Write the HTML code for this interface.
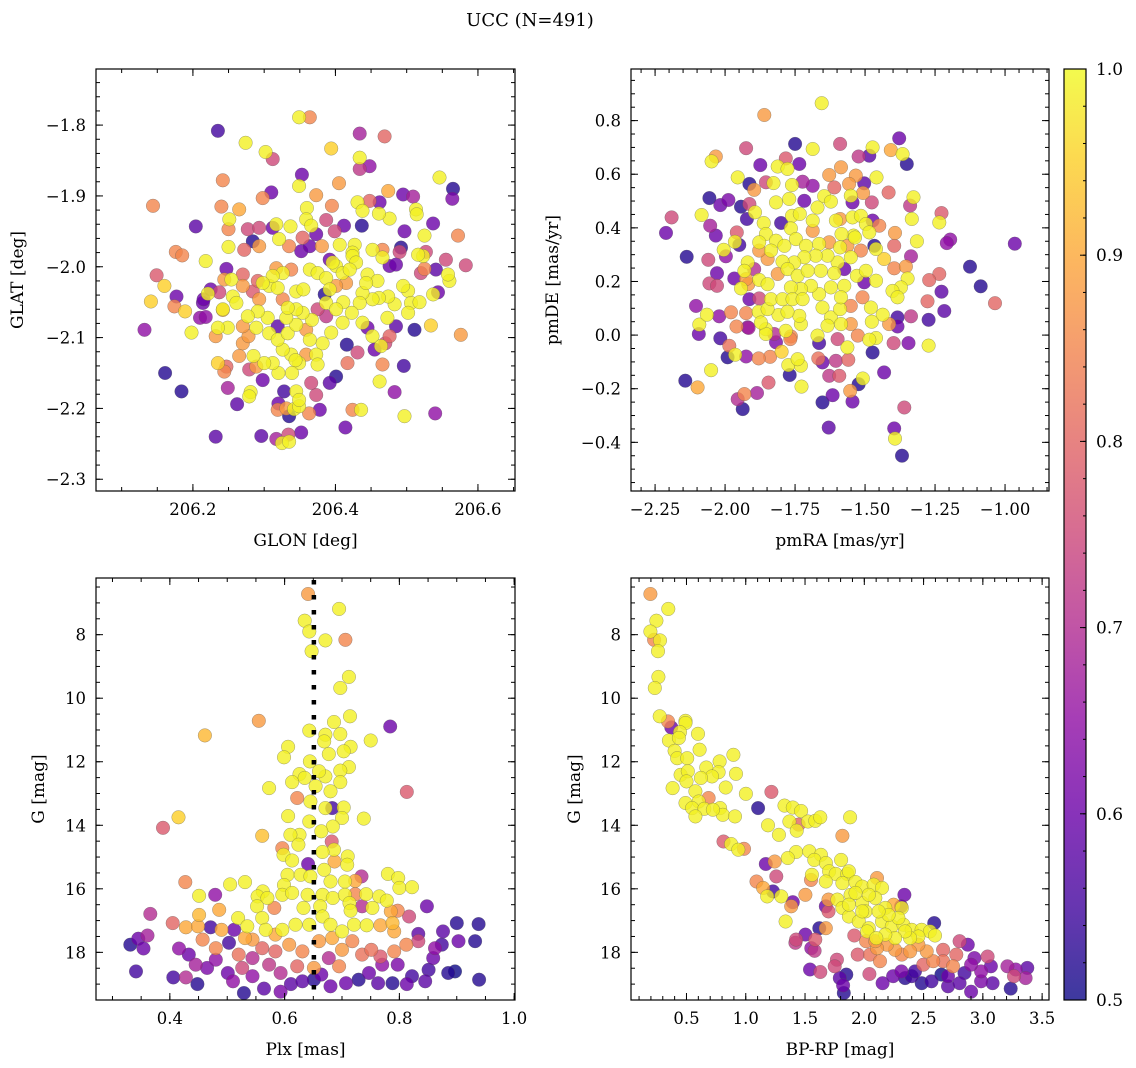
<!DOCTYPE html>
<html><head><meta charset="utf-8">
<style>
html,body{margin:0;padding:0;background:#fff;}
svg{display:block;font-family:"DejaVu Serif","Liberation Serif",serif;}
</style></head>
<body>
<svg id="fig" width="1136" height="1068" viewBox="0 0 1136 1068" xmlns="http://www.w3.org/2000/svg">
<rect x="0" y="0" width="1136" height="1068" fill="#fff"/>
<text x="530" y="26" font-size="18" text-anchor="middle">UCC (N=491)</text>
<defs>
<linearGradient id="plasma" x1="0" y1="1" x2="0" y2="0">
<stop offset="0" stop-color="#0d0887"/><stop offset="0.1" stop-color="#41049d"/><stop offset="0.2" stop-color="#6a00a8"/>
<stop offset="0.3" stop-color="#8f0da4"/><stop offset="0.4" stop-color="#b12a90"/><stop offset="0.5" stop-color="#cc4778"/>
<stop offset="0.6" stop-color="#e16462"/><stop offset="0.7" stop-color="#f2844b"/><stop offset="0.8" stop-color="#fca636"/>
<stop offset="0.9" stop-color="#fcce25"/><stop offset="1" stop-color="#f0f921"/>
</linearGradient>
</defs>
<g id="root"></g>
</svg>
<script>
// ---- data: [x, y, membership probability] ----
const glonGlat = [[206.349,-1.789,0.99],[206.364,-1.789,0.85],[206.235,-1.808,0.55],[206.274,-1.825,0.99],[206.302,-1.838,0.99],[206.312,-1.848,0.75],[206.434,-1.812,0.68],[206.469,-1.816,0.8],[206.394,-1.833,0.95],[206.434,-1.846,0.99],[206.448,-1.858,0.65],[206.434,-1.862,0.72],[206.242,-1.878,0.85],[206.353,-1.870,0.6],[206.349,-1.886,0.99],[206.405,-1.882,0.88],[206.373,-1.899,0.88],[206.298,-1.903,0.85],[206.310,-1.895,0.6],[206.144,-1.914,0.85],[206.240,-1.915,0.85],[206.265,-1.919,0.9],[206.546,-1.874,0.99],[206.565,-1.890,0.52],[206.564,-1.904,0.62],[206.474,-1.893,0.9],[206.495,-1.898,0.6],[206.509,-1.901,0.68],[206.431,-1.909,0.99],[206.448,-1.907,0.8],[206.462,-1.909,0.6],[206.513,-1.919,0.99],[206.514,-1.926,0.99],[206.476,-1.932,0.99],[206.461,-1.925,0.99],[206.438,-1.921,0.99],[206.395,-1.914,0.85],[206.360,-1.917,0.99],[206.359,-1.933,0.99],[206.366,-1.942,0.99],[206.387,-1.934,0.75],[206.412,-1.942,0.6],[206.437,-1.942,0.52],[206.537,-1.939,0.6],[206.525,-1.956,0.99],[206.497,-1.950,0.6],[206.572,-1.956,0.85],[206.583,-1.998,0.75],[206.204,-1.943,0.58],[206.251,-1.933,0.99],[206.250,-1.947,0.85],[206.277,-1.947,0.75],[206.293,-1.945,0.75],[206.317,-1.940,0.99],[206.312,-1.945,0.6],[206.337,-1.943,0.99],[206.399,-1.950,0.75],[206.373,-1.954,0.6],[206.354,-1.959,0.8],[206.284,-1.964,0.52],[206.293,-1.971,0.88],[206.250,-1.972,0.99],[206.272,-1.976,0.8],[206.321,-1.961,0.99],[206.335,-1.971,0.85],[206.352,-1.978,0.6],[206.364,-1.971,0.6],[206.381,-1.971,0.88],[206.406,-1.969,0.99],[206.427,-1.969,0.99],[206.424,-1.980,0.99],[206.452,-1.976,0.99],[206.466,-1.976,0.85],[206.492,-1.973,0.52],[206.490,-1.979,0.75],[206.176,-1.979,0.85],[206.185,-1.984,0.85],[206.218,-1.992,0.99],[206.247,-2.003,0.6],[206.149,-2.012,0.78],[206.160,-2.027,0.95],[206.141,-2.049,0.95],[206.177,-2.042,0.6],[206.174,-2.056,0.85],[206.189,-2.063,0.95],[206.214,-2.051,0.6],[206.210,-2.072,0.65],[206.218,-2.071,0.65],[206.242,-2.061,0.9],[206.198,-2.093,0.99],[206.132,-2.089,0.65],[206.161,-2.150,0.52],[206.184,-2.176,0.52],[206.249,-2.171,0.68],[206.262,-2.194,0.58],[206.232,-2.240,0.58],[206.281,-2.177,0.99],[206.279,-2.183,0.99],[206.235,-2.136,0.95],[206.247,-2.141,0.8],[206.244,-2.148,0.85],[206.298,-2.160,0.6],[206.296,-2.239,0.58],[206.317,-2.243,0.68],[206.325,-2.249,0.99],[206.335,-2.247,0.99],[206.334,-2.237,0.75],[206.352,-2.234,0.6],[206.328,-2.176,0.55],[206.320,-2.193,0.6],[206.319,-2.202,0.85],[206.331,-2.200,0.88],[206.342,-2.201,0.99],[206.349,-2.197,0.99],[206.335,-2.211,0.52],[206.363,-2.207,0.85],[206.373,-2.181,0.75],[206.366,-2.164,0.75],[206.378,-2.202,0.6],[206.345,-2.176,0.99],[206.349,-2.188,0.99],[206.392,-2.164,0.58],[206.401,-2.155,0.52],[206.414,-2.227,0.6],[206.424,-2.202,0.85],[206.436,-2.202,0.99],[206.462,-2.162,0.99],[206.483,-2.177,0.65],[206.497,-2.211,0.99],[206.540,-2.207,0.65],[206.496,-2.140,0.55],[206.466,-2.138,0.85],[206.417,-2.136,0.82],[206.431,-2.121,0.75],[206.576,-2.096,0.88],[206.534,-2.083,0.95],[206.511,-2.089,0.52],[206.485,-2.084,0.58],[206.473,-2.072,0.99],[206.537,-2.039,0.99],[206.544,-2.036,0.6],[206.560,-2.020,0.99],[206.558,-2.011,0.99],[206.555,-1.990,0.75],[206.541,-2.004,0.58],[206.525,-2.003,0.85],[206.520,-2.009,0.75],[206.523,-1.985,0.99],[206.516,-1.983,0.99],[206.527,-1.979,0.75],[206.502,-2.034,0.99],[206.495,-2.027,0.99],[206.506,-2.051,0.99],[206.518,-2.050,0.99],[206.502,-2.065,0.99],[206.483,-2.053,0.99],[206.474,-2.042,0.99],[206.461,-2.044,0.99],[206.452,-2.046,0.99],[206.438,-2.037,0.99],[206.434,-2.051,0.99],[206.423,-2.065,0.99],[206.411,-2.050,0.99],[206.410,-2.079,0.99],[206.438,-2.079,0.99],[206.452,-2.098,0.99],[206.464,-2.112,0.99],[206.476,-2.098,0.8],[206.470,-2.108,0.75],[206.455,-2.117,0.6],[206.445,-2.086,0.6],[206.416,-2.110,0.52],[206.394,-2.093,0.99],[206.382,-2.108,0.99],[206.373,-2.124,0.99],[206.375,-2.138,0.99],[206.359,-2.124,0.88],[206.349,-2.136,0.99],[206.338,-2.124,0.99],[206.344,-2.132,0.99],[206.326,-2.117,0.99],[206.320,-2.150,0.99],[206.339,-2.150,0.99],[206.312,-2.136,0.99],[206.300,-2.136,0.99],[206.289,-2.141,0.88],[206.279,-2.145,0.75],[206.285,-2.126,0.99],[206.265,-2.126,0.88],[206.270,-2.108,0.88],[206.278,-2.098,0.88],[206.289,-2.086,0.99],[206.307,-2.094,0.99],[206.319,-2.103,0.99],[206.333,-2.094,0.99],[206.345,-2.082,0.99],[206.359,-2.089,0.88],[206.364,-2.103,0.99],[206.367,-2.075,0.99],[206.354,-2.065,0.99],[206.345,-2.060,0.99],[206.331,-2.072,0.99],[206.319,-2.084,0.58],[206.305,-2.072,0.99],[206.291,-2.063,0.99],[206.277,-2.070,0.99],[206.270,-2.084,0.88],[206.249,-2.086,0.99],[206.235,-2.086,0.99],[206.232,-2.098,0.88],[206.256,-2.042,0.99],[206.261,-2.051,0.99],[206.270,-2.027,0.88],[206.284,-2.035,0.78],[206.293,-2.046,0.88],[206.307,-2.027,0.99],[206.319,-2.030,0.99],[206.326,-2.046,0.85],[206.333,-2.058,0.99],[206.345,-2.035,0.99],[206.355,-2.032,0.99],[206.364,-2.004,0.99],[206.375,-2.009,0.99],[206.387,-2.016,0.99],[206.401,-1.999,0.99],[206.410,-2.009,0.99],[206.392,-2.032,0.99],[206.387,-2.051,0.99],[206.401,-2.060,0.99],[206.375,-2.060,0.75],[206.387,-2.070,0.72],[206.385,-2.039,0.52],[206.396,-1.994,0.99],[206.392,-1.990,0.6],[206.424,-1.985,0.99],[206.429,-1.994,0.99],[206.420,-2.004,0.99],[206.445,-2.011,0.99],[206.459,-2.020,0.99],[206.443,-2.023,0.99],[206.466,-1.987,0.99],[206.476,-1.999,0.6],[206.485,-1.997,0.6],[206.415,-2.023,0.88],[206.401,-2.027,0.88],[206.338,-2.004,0.85],[206.326,-2.009,0.99],[206.317,-2.002,0.88],[206.312,-2.013,0.99],[206.298,-2.023,0.99],[206.291,-2.020,0.8],[206.270,-2.011,0.8],[206.254,-2.018,0.99],[206.244,-2.018,0.88],[206.225,-2.032,0.6],[206.221,-2.038,0.99],[206.237,-2.036,0.75],[206.215,-2.046,0.6],[206.242,-2.060,0.99]];

const pmraPmde = [[-1.655,0.865,0.99],[-1.860,0.821,0.88],[-1.750,0.713,0.52],[-1.687,0.694,0.99],[-1.589,0.713,0.75],[-1.925,0.697,0.75],[-1.378,0.734,0.6],[-1.473,0.700,0.99],[-1.408,0.690,0.9],[-1.366,0.675,0.99],[-1.351,0.638,0.52],[-1.523,0.666,0.72],[-1.485,0.669,0.58],[-2.033,0.666,0.88],[-2.048,0.648,0.99],[-1.874,0.634,0.6],[-1.783,0.659,0.78],[-1.735,0.638,0.6],[-1.812,0.629,0.99],[-1.777,0.620,0.99],[-1.586,0.626,0.88],[-1.628,0.597,0.88],[-1.533,0.595,0.88],[-1.459,0.588,0.99],[-1.955,0.588,0.99],[-1.913,0.564,0.52],[-1.827,0.567,0.99],[-1.761,0.560,0.99],[-1.723,0.572,0.68],[-1.687,0.557,0.65],[-1.854,0.570,0.75],[-1.896,0.542,0.88],[-1.503,0.566,0.58],[-1.557,0.564,0.88],[-1.610,0.551,0.8],[-2.056,0.511,0.52],[-2.017,0.485,0.6],[-1.988,0.504,0.62],[-1.943,0.479,0.52],[-1.913,0.489,0.75],[-1.818,0.495,0.99],[-1.771,0.508,0.99],[-1.717,0.501,0.6],[-1.646,0.518,0.99],[-1.622,0.498,0.99],[-1.551,0.520,0.99],[-1.507,0.530,0.88],[-1.545,0.495,0.6],[-1.476,0.495,0.75],[-1.416,0.532,0.8],[-1.327,0.514,0.99],[-1.339,0.483,0.72],[-1.333,0.433,0.99],[-1.227,0.455,0.78],[-1.235,0.420,0.99],[-1.196,0.356,0.65],[-1.208,0.343,0.65],[-0.965,0.341,0.6],[-1.315,0.350,0.99],[-1.336,0.294,0.68],[-1.393,0.381,0.88],[-1.396,0.333,0.8],[-1.467,0.333,0.52],[-1.461,0.321,0.99],[-1.432,0.284,0.95],[-1.396,0.249,0.85],[-1.354,0.256,0.88],[-1.348,0.211,0.99],[-1.372,0.178,0.99],[-1.402,0.165,0.99],[-1.384,0.141,0.99],[-1.125,0.255,0.52],[-1.087,0.182,0.52],[-1.036,0.119,0.8],[-1.235,0.228,0.8],[-1.271,0.205,0.8],[-1.227,0.162,0.58],[-1.277,0.126,0.8],[-1.217,0.090,0.58],[-1.273,0.057,0.55],[-1.336,0.070,0.72],[-1.384,0.066,0.55],[-1.273,-0.039,0.99],[-1.345,-0.030,0.62],[-1.398,-0.030,0.75],[-1.384,0.032,0.6],[-1.414,0.041,0.88],[-1.437,0.076,0.99],[-1.476,0.050,0.99],[-1.461,-0.011,0.99],[-1.485,-0.017,0.99],[-1.473,-0.065,0.52],[-1.432,-0.139,0.6],[-1.360,-0.270,0.75],[-1.396,-0.348,0.6],[-1.393,-0.386,0.99],[-1.368,-0.450,0.52],[-1.630,-0.345,0.58],[-1.652,-0.251,0.52],[-1.616,-0.224,0.6],[-1.545,-0.248,0.6],[-1.523,-0.183,0.52],[-1.508,-0.162,0.99],[-1.553,-0.208,0.88],[-1.592,-0.152,0.78],[-1.628,-0.152,0.72],[-1.604,-0.096,0.72],[-1.560,-0.092,0.8],[-1.652,-0.102,0.6],[-1.667,-0.087,0.82],[-1.727,-0.192,0.99],[-1.769,-0.149,0.52],[-1.774,-0.112,0.99],[-1.729,-0.114,0.99],[-1.741,-0.090,0.99],[-1.798,-0.062,0.95],[-1.839,-0.081,0.85],[-1.880,-0.087,0.85],[-1.925,-0.080,0.65],[-1.845,-0.177,0.78],[-1.886,-0.216,0.68],[-1.931,-0.220,0.85],[-1.955,-0.239,0.7],[-1.937,-0.276,0.52],[-2.050,-0.131,0.99],[-2.098,-0.195,0.9],[-2.142,-0.170,0.52],[-1.991,-0.083,0.52],[-1.964,-0.073,0.99],[-1.985,-0.040,0.82],[-2.017,-0.012,0.55],[-2.094,0.004,0.6],[-2.092,0.039,0.99],[-2.065,0.076,0.99],[-2.104,0.109,0.65],[-2.021,0.070,0.65],[-1.979,0.085,0.85],[-1.959,0.032,0.85],[-1.916,0.027,0.68],[-1.925,0.082,0.85],[-1.880,0.087,0.99],[-1.854,0.022,0.99],[-1.824,0.004,0.7],[-1.783,0.016,0.99],[-1.765,-0.005,0.85],[-1.729,0.041,0.99],[-1.735,0.072,0.99],[-1.809,0.075,0.99],[-1.777,0.087,0.99],[-1.848,0.097,0.99],[-1.878,0.137,0.75],[-1.836,0.134,0.99],[-1.913,0.134,0.6],[-1.943,0.174,0.99],[-1.917,0.190,0.88],[-1.967,0.211,0.6],[-2.029,0.231,0.6],[-2.056,0.193,0.75],[-2.029,0.184,0.75],[-2.137,0.292,0.52],[-2.060,0.281,0.75],[-2.005,0.318,0.99],[-1.997,0.294,0.65],[-1.965,0.348,0.99],[-1.949,0.336,0.55],[-1.958,0.383,0.78],[-2.053,0.408,0.68],[-2.033,0.371,0.6],[-2.084,0.448,0.99],[-2.191,0.439,0.75],[-2.211,0.381,0.6],[-1.922,0.433,0.55],[-1.893,0.458,0.99],[-1.862,0.418,0.99],[-1.800,0.418,0.55],[-1.761,0.445,0.99],[-1.733,0.452,0.99],[-1.687,0.427,0.99],[-1.670,0.476,0.99],[-1.604,0.427,0.99],[-1.589,0.433,0.88],[-1.545,0.439,0.99],[-1.515,0.445,0.99],[-1.497,0.414,0.99],[-1.473,0.427,0.6],[-1.449,0.408,0.85],[-1.485,0.383,0.99],[-1.541,0.371,0.99],[-1.584,0.377,0.99],[-1.687,0.389,0.88],[-1.765,0.398,0.99],[-1.854,0.377,0.99],[-1.818,0.352,0.99],[-1.878,0.346,0.99],[-1.836,0.315,0.99],[-1.788,0.333,0.99],[-1.747,0.358,0.99],[-1.711,0.333,0.99],[-1.664,0.340,0.99],[-1.628,0.346,0.88],[-1.589,0.327,0.99],[-1.563,0.333,0.88],[-1.536,0.364,0.99],[-1.515,0.315,0.85],[-1.551,0.290,0.99],[-1.598,0.271,0.99],[-1.634,0.296,0.99],[-1.676,0.296,0.99],[-1.717,0.290,0.99],[-1.753,0.271,0.99],[-1.795,0.274,0.99],[-1.848,0.284,0.88],[-1.878,0.315,0.88],[-1.919,0.271,0.99],[-1.931,0.240,0.99],[-1.896,0.246,0.7],[-1.925,0.209,0.88],[-1.878,0.206,0.99],[-1.848,0.190,0.99],[-1.812,0.228,0.88],[-1.777,0.246,0.99],[-1.741,0.221,0.99],[-1.705,0.240,0.99],[-1.658,0.240,0.99],[-1.610,0.231,0.99],[-1.574,0.246,0.6],[-1.529,0.221,0.99],[-1.497,0.240,0.99],[-1.461,0.203,0.99],[-1.503,0.197,0.6],[-1.574,0.184,0.99],[-1.622,0.178,0.99],[-1.664,0.153,0.99],[-1.693,0.184,0.99],[-1.729,0.172,0.99],[-1.765,0.178,0.99],[-1.795,0.134,0.99],[-1.759,0.134,0.99],[-1.723,0.134,0.99],[-1.652,0.103,0.99],[-1.622,0.066,0.99],[-1.589,0.097,0.99],[-1.586,0.141,0.99],[-1.551,0.109,0.85],[-1.509,0.141,0.85],[-1.479,0.103,0.99],[-1.551,0.041,0.88],[-1.586,0.041,0.99],[-1.634,0.035,0.99],[-1.670,-0.002,0.99],[-1.664,-0.030,0.55],[-1.598,-0.015,0.75],[-1.563,-0.046,0.99],[-1.526,-0.002,0.85],[-1.767,-0.015,0.85],[-1.818,-0.027,0.62],[-1.854,0.004,0.99],[-1.872,0.047,0.99],[-1.919,0.029,0.65]];

const plxG = [[0.641,6.72,0.88],[0.695,7.19,0.99],[0.635,7.56,0.99],[0.643,7.90,0.99],[0.647,8.52,0.99],[0.671,8.18,0.99],[0.706,8.16,0.85],[0.712,9.33,0.99],[0.697,9.68,0.99],[0.555,10.71,0.88],[0.461,11.17,0.92],[0.784,10.89,0.6],[0.686,10.75,0.99],[0.714,10.57,0.99],[0.697,11.13,0.99],[0.643,11.02,0.99],[0.671,11.15,0.99],[0.669,11.36,0.99],[0.750,11.33,0.99],[0.715,11.53,0.99],[0.703,11.67,0.99],[0.677,11.76,0.99],[0.606,11.53,0.99],[0.599,11.86,0.99],[0.644,11.99,0.99],[0.712,12.17,0.99],[0.697,12.28,0.99],[0.671,12.46,0.99],[0.660,12.30,0.99],[0.626,12.39,0.99],[0.613,12.64,0.99],[0.635,12.51,0.99],[0.697,12.64,0.99],[0.573,12.83,0.99],[0.654,12.77,0.99],[0.680,12.93,0.99],[0.813,12.95,0.78],[0.622,13.14,0.85],[0.645,13.25,0.99],[0.683,13.46,0.55],[0.671,13.46,0.99],[0.703,13.44,0.99],[0.700,13.77,0.99],[0.738,13.79,0.99],[0.643,13.88,0.99],[0.606,13.71,0.99],[0.415,13.75,0.95],[0.388,14.08,0.78],[0.684,14.04,0.99],[0.664,14.19,0.99],[0.626,14.30,0.99],[0.610,14.30,0.99],[0.561,14.33,0.93],[0.682,14.51,0.78],[0.624,14.61,0.99],[0.596,14.72,0.85],[0.598,14.93,0.99],[0.613,15.11,0.99],[0.686,14.77,0.99],[0.666,14.84,0.99],[0.710,14.98,0.99],[0.687,15.14,0.9],[0.709,15.24,0.99],[0.641,15.22,0.6],[0.669,15.40,0.99],[0.605,15.56,0.99],[0.628,15.56,0.99],[0.645,15.61,0.99],[0.680,15.77,0.99],[0.705,15.77,0.99],[0.723,15.75,0.9],[0.734,15.61,0.7],[0.780,15.53,0.99],[0.798,15.66,0.99],[0.800,15.97,0.99],[0.822,15.95,0.99],[0.427,15.79,0.85],[0.505,15.86,0.99],[0.531,15.79,0.99],[0.451,16.22,0.99],[0.479,16.19,0.65],[0.562,16.08,0.99],[0.553,16.24,0.99],[0.599,15.88,0.99],[0.596,16.19,0.99],[0.613,16.13,0.99],[0.640,16.19,0.99],[0.666,16.19,0.99],[0.684,16.29,0.99],[0.705,16.19,0.99],[0.723,16.17,0.85],[0.742,16.17,0.99],[0.765,16.24,0.99],[0.778,16.37,0.99],[0.570,16.29,0.99],[0.552,16.55,0.99],[0.582,16.60,0.85],[0.633,16.60,0.99],[0.662,16.55,0.99],[0.713,16.45,0.99],[0.715,16.69,0.99],[0.735,16.55,0.7],[0.753,16.60,0.99],[0.785,16.71,0.9],[0.797,16.69,0.85],[0.848,16.55,0.6],[0.366,16.79,0.7],[0.405,17.08,0.8],[0.428,17.21,0.9],[0.449,17.18,0.9],[0.451,16.82,0.92],[0.486,16.66,0.9],[0.471,17.21,0.55],[0.490,17.29,0.9],[0.512,17.29,0.6],[0.519,16.92,0.99],[0.535,17.18,0.99],[0.561,16.92,0.99],[0.567,17.29,0.99],[0.596,17.29,0.99],[0.619,17.13,0.99],[0.643,17.13,0.99],[0.666,16.87,0.99],[0.680,17.13,0.99],[0.700,17.34,0.99],[0.721,17.13,0.99],[0.743,17.15,0.99],[0.767,17.15,0.9],[0.788,17.08,0.92],[0.791,17.34,0.9],[0.817,16.87,0.75],[0.833,17.42,0.58],[0.876,17.34,0.58],[0.900,17.08,0.52],[0.938,17.11,0.52],[0.361,17.47,0.68],[0.345,17.57,0.6],[0.331,17.76,0.52],[0.354,17.88,0.6],[0.341,18.60,0.55],[0.406,18.79,0.55],[0.428,18.79,0.7],[0.448,19.00,0.52],[0.416,17.88,0.65],[0.433,18.07,0.6],[0.445,18.39,0.68],[0.465,18.49,0.62],[0.457,17.60,0.85],[0.480,17.87,0.85],[0.503,17.70,0.55],[0.501,18.65,0.6],[0.510,18.91,0.65],[0.529,19.28,0.52],[0.526,18.49,0.75],[0.544,18.75,0.65],[0.520,18.07,0.82],[0.544,17.60,0.88],[0.564,19.14,0.58],[0.593,19.24,0.62],[0.573,18.39,0.72],[0.593,18.65,0.7],[0.584,17.97,0.8],[0.611,19.00,0.58],[0.622,18.44,0.8],[0.608,17.76,0.88],[0.631,17.97,0.85],[0.651,18.49,0.88],[0.651,18.86,0.52],[0.664,18.70,0.6],[0.680,19.07,0.6],[0.695,18.44,0.85],[0.700,17.92,0.88],[0.707,18.97,0.6],[0.729,18.86,0.52],[0.735,18.07,0.82],[0.751,17.92,0.82],[0.747,18.65,0.6],[0.763,18.97,0.58],[0.767,18.13,0.78],[0.788,18.97,0.52],[0.791,17.97,0.85],[0.797,18.39,0.62],[0.812,17.76,0.85],[0.813,19.00,0.6],[0.822,18.75,0.55],[0.833,17.65,0.75],[0.845,18.91,0.58],[0.859,18.18,0.6],[0.862,17.87,0.65],[0.885,18.65,0.52],[0.897,18.60,0.5],[0.903,17.65,0.6],[0.932,17.65,0.52],[0.939,18.86,0.52],[0.851,18.55,0.55],[0.874,17.76,0.55],[0.544,18.18,0.7],[0.561,17.87,0.8],[0.631,18.91,0.58],[0.677,18.18,0.7],[0.660,17.65,0.88],[0.683,17.55,0.9],[0.718,17.65,0.85],[0.584,17.44,0.9],[0.531,17.55,0.9],[0.480,18.23,0.65],[0.770,18.39,0.65]];

const colorG = [[0.196,6.72,0.88],[0.347,7.19,0.99],[0.246,7.56,0.99],[0.196,7.90,0.99],[0.227,8.16,0.85],[0.277,8.18,0.99],[0.260,8.52,0.99],[0.263,9.33,0.99],[0.233,9.68,0.99],[0.274,10.57,0.99],[0.344,10.73,0.85],[0.372,10.92,0.6],[0.492,10.71,0.99],[0.492,10.78,0.99],[0.445,11.07,0.99],[0.597,11.12,0.99],[0.352,11.33,0.99],[0.436,11.25,0.99],[0.611,11.62,0.99],[0.400,11.66,0.99],[0.422,11.89,0.99],[0.506,11.89,0.99],[0.896,11.78,0.99],[0.779,11.99,0.99],[0.667,12.18,0.99],[0.771,12.33,0.99],[0.918,12.38,0.99],[0.450,12.41,0.99],[0.511,12.30,0.99],[0.715,12.46,0.99],[0.622,12.51,0.99],[0.500,12.62,0.99],[0.383,12.83,0.99],[0.831,12.81,0.99],[0.575,12.93,0.99],[1.001,13.01,0.99],[1.216,12.95,0.78],[0.687,13.14,0.85],[0.492,13.30,0.99],[0.603,13.25,0.99],[0.547,13.46,0.99],[0.650,13.48,0.99],[0.575,13.72,0.99],[0.784,13.46,0.99],[0.806,13.67,0.99],[0.909,13.72,0.99],[0.723,13.51,0.99],[1.104,13.46,0.52],[1.327,13.38,0.99],[1.397,13.44,0.99],[1.467,13.55,0.99],[1.525,13.88,0.99],[1.587,13.86,0.99],[1.629,13.75,0.99],[1.880,13.75,0.99],[1.368,13.88,0.99],[1.446,13.98,0.8],[1.430,14.17,0.99],[1.188,14.00,0.99],[1.280,14.30,0.99],[1.815,14.33,0.88],[0.812,14.51,0.78],[0.876,14.59,0.99],[0.985,14.74,0.85],[0.937,14.77,0.99],[1.425,14.84,0.99],[1.355,15.03,0.99],[1.536,14.82,0.99],[1.634,14.93,0.99],[1.578,15.09,0.99],[1.676,15.19,0.99],[1.804,15.09,0.99],[1.703,15.45,0.99],[1.759,15.53,0.99],[1.857,15.53,0.99],[1.870,15.45,0.99],[1.558,15.56,0.99],[1.675,15.77,0.99],[1.815,15.82,0.99],[1.926,15.79,0.99],[1.982,15.93,0.99],[2.107,15.66,0.88],[2.079,15.87,0.99],[2.149,15.97,0.99],[1.884,16.19,0.99],[1.982,16.45,0.99],[2.010,16.71,0.99],[2.093,16.29,0.99],[2.177,16.60,0.99],[2.247,16.50,0.9],[2.316,16.60,0.99],[1.773,16.34,0.99],[1.815,16.60,0.99],[1.870,16.87,0.99],[1.954,17.03,0.99],[2.038,17.24,0.99],[2.024,17.34,0.99],[2.149,17.03,0.99],[2.232,17.18,0.99],[2.330,17.13,0.99],[2.400,17.29,0.99],[2.483,17.29,0.99],[2.553,17.34,0.99],[2.596,17.47,0.99],[2.590,17.08,0.52],[2.338,16.19,0.6],[2.310,16.55,0.6],[1.550,15.72,0.85],[1.503,16.19,0.88],[1.091,15.77,0.85],[1.146,15.97,0.9],[1.181,16.24,0.99],[1.230,16.08,0.55],[1.300,16.24,0.99],[1.169,15.22,0.6],[1.244,15.14,0.88],[1.258,15.61,0.75],[1.397,16.42,0.6],[1.383,16.55,0.88],[1.336,17.03,0.99],[1.698,16.34,0.88],[1.698,16.71,0.78],[1.675,16.55,0.6],[1.620,17.24,0.52],[1.675,17.24,0.88],[1.503,17.44,0.6],[1.425,17.60,0.75],[1.419,17.70,0.72],[1.587,17.60,0.78],[1.553,17.87,0.65],[1.581,17.95,0.72],[1.916,17.47,0.78],[1.944,18.07,0.78],[1.769,18.23,0.75],[1.750,18.44,0.75],[1.629,18.62,0.75],[1.542,18.54,0.6],[1.793,18.81,0.58],[1.848,18.70,0.52],[1.821,19.04,0.6],[1.827,19.28,0.52],[2.043,18.68,0.75],[2.049,18.07,0.82],[2.132,18.28,0.85],[2.154,18.97,0.6],[2.243,18.75,0.6],[2.313,18.60,0.62],[2.400,18.75,0.55],[2.484,18.97,0.52],[2.567,18.91,0.55],[2.706,19.07,0.58],[2.804,18.97,0.58],[2.901,19.24,0.6],[2.985,18.91,0.62],[3.082,18.97,0.58],[3.235,19.14,0.52],[3.207,18.44,0.68],[3.277,18.54,0.65],[3.375,18.49,0.58],[3.361,18.81,0.68],[3.263,18.75,0.75],[3.040,18.13,0.75],[3.068,18.44,0.6],[2.985,18.60,0.65],[2.901,18.39,0.65],[2.873,17.76,0.6],[2.804,17.65,0.75],[2.776,18.07,0.8],[2.748,18.44,0.85],[2.665,18.28,0.82],[2.665,17.92,0.8],[2.581,18.28,0.85],[2.498,18.39,0.8],[2.526,17.97,0.88],[2.456,17.76,0.88],[2.386,17.97,0.88],[2.316,18.07,0.85],[2.260,17.92,0.88],[2.191,17.76,0.88],[2.107,17.87,0.88],[2.093,17.65,0.88],[2.015,17.65,0.85],[2.456,17.50,0.99],[2.386,17.55,0.99],[2.344,17.34,0.99],[2.260,17.55,0.99],[2.177,17.44,0.99],[2.101,17.55,0.99],[2.288,16.92,0.99],[2.205,16.82,0.99],[2.121,16.71,0.99],[1.982,16.71,0.99],[1.870,16.50,0.99],[1.926,16.13,0.99],[2.038,16.19,0.99],[2.428,18.60,0.55],[2.344,18.81,0.52],[2.650,18.70,0.5],[2.845,18.65,0.55],[2.929,18.18,0.62],[2.706,18.75,0.6]];

// tick values
const p1XTicks = [206.2, 206.4, 206.6];
const p1YTicks = [-1.8, -1.9, -2.0, -2.1, -2.2, -2.3];
const p2XTicks = [-2.25, -2.00, -1.75, -1.50, -1.25, -1.00];
const p2YTicks = [0.8, 0.6, 0.4, 0.2, 0.0, -0.2, -0.4];
const p3XTicks = [0.4, 0.6, 0.8, 1.0];
const gTicks = [8, 10, 12, 14, 16, 18];
const p4XTicks = [0.5, 1.0, 1.5, 2.0, 2.5, 3.0, 3.5];
const cbTicks = [0.5, 0.6, 0.7, 0.8, 0.9, 1.0];
const plxMedian = [0.651];

// ---- rendering ----
const NS = "http://www.w3.org/2000/svg";
const root = document.getElementById("root");
function mk(tag, attrs, parent) {
  const e = document.createElementNS(NS, tag);
  for (const k in attrs) e.setAttribute(k, attrs[k]);
  (parent || root).appendChild(e);
  return e;
}
const stops = [[13,8,135],[65,4,157],[106,0,168],[143,13,164],[177,42,144],[204,71,120],[225,100,98],[242,132,75],[252,166,54],[252,206,37],[240,249,33]];
function plasma(v) {
  let t = (v - 0.5) / 0.5; t = Math.max(0, Math.min(1, t));
  const f = t * 10, i = Math.min(9, Math.floor(f)), r = f - i;
  const a = stops[i], b = stops[i + 1];
  return "rgb(" + [0,1,2].map(k => Math.round(a[k] + (b[k] - a[k]) * r)).join(",") + ")";
}
function fmt(v, d) { const s = Math.abs(v).toFixed(d); return (v < -1e-9 ? "\u2212" : "") + s; }

function panel(cfg) {
  const g = mk("g", {});
  
  
  const L = cfg.x0, R = cfg.x1, T = cfg.y0, B = cfg.y1;
  const sx = v => L + (v - cfg.xd[0]) / (cfg.xd[1] - cfg.xd[0]) * (R - L);
  const sy = v => T + (v - cfg.yd[0]) / (cfg.yd[1] - cfg.yd[0]) * (B - T);
  const cp = "clip-" + cfg.name;
  const c = mk("clipPath", {id: cp}, g);
  mk("rect", {x: L, y: T, width: R - L, height: B - T}, c);
  const pts = mk("g", {"clip-path": "url(#" + cp + ")"}, g);
  
  
  const sorted = cfg.data.slice().sort((a, b) => a[2] - b[2]);
  for (const d of sorted) {
    const ci = mk("circle", {cx: sx(d[0]).toFixed(1), cy: sy(d[1]).toFixed(1), r: 6.8, fill: plasma(d[2]), "fill-opacity": 0.8, stroke: "#555", "stroke-opacity": 0.55, "stroke-width": 0.5}, pts);
    
    
  }
  if (cfg.vline) {
    const vl = mk("line", {x1: sx(cfg.vline[0]), x2: sx(cfg.vline[0]), y1: T + 2, y2: B, stroke: "#000", "stroke-width": 4.5, "stroke-dasharray": "4.5,10.5"}, g);
    
    
  }
  const tk = mk("g", {stroke: "#000", "stroke-width": 1}, g);
  for (let v = Math.ceil(Math.min(...cfg.xd) / cfg.xm) * cfg.xm; v <= Math.max(...cfg.xd) + 1e-9; v += cfg.xm) {
    const X = sx(v);
    mk("line", {x1: X, x2: X, y1: B, y2: B - 4}, tk); mk("line", {x1: X, x2: X, y1: T, y2: T + 4}, tk);
  }
  for (let v = Math.ceil(Math.min(...cfg.yd) / cfg.ym) * cfg.ym; v <= Math.max(...cfg.yd) + 1e-9; v += cfg.ym) {
    const Y = sy(v);
    mk("line", {x1: L, x2: L + 4, y1: Y, y2: Y}, tk); mk("line", {x1: R, x2: R - 4, y1: Y, y2: Y}, tk);
  }
  for (const v of cfg.xt) {
    const X = sx(v);
    mk("line", {x1: X, x2: X, y1: B, y2: B - 7}, tk); mk("line", {x1: X, x2: X, y1: T, y2: T + 7}, tk);
    const t = mk("text", {x: X, y: B + 24, "font-size": 16.5, "text-anchor": "middle"}, g);
    t.textContent = fmt(v, cfg.xdec);
    
    
  }
  for (const v of cfg.yt) {
    const Y = sy(v);
    mk("line", {x1: L, x2: L + 7, y1: Y, y2: Y}, tk); mk("line", {x1: R, x2: R - 7, y1: Y, y2: Y}, tk);
    const t = mk("text", {x: L - 10, y: Y + 6, "font-size": 16.5, "text-anchor": "end"}, g);
    t.textContent = fmt(v, cfg.ydec);
    
    
  }
  const fr = mk("rect", {x: L, y: T, width: R - L, height: B - T, fill: "none", stroke: "#000", "stroke-width": 1.2}, g);
  
  
  const xl = mk("text", {x: (L + R) / 2, y: B + 55, "font-size": 17, "text-anchor": "middle"}, g);
  xl.textContent = cfg.xlab;
  
  
  const yx = cfg.ylx, yc = (T + B) / 2;
  const yl = mk("text", {x: yx, y: yc, "font-size": 17, "text-anchor": "middle", transform: "rotate(-90 " + yx + " " + yc + ")"}, g);
  yl.textContent = cfg.ylab;
  
  
}

panel({name: "glon-glat-panel", data: glonGlat, x0: 96, x1: 515, y0: 69, y1: 491, xd: [206.064, 206.652], yd: [-1.7208, -2.3166], xt: p1XTicks, yt: p1YTicks, xm: 0.05, ym: 0.02, xdec: 1, ydec: 1, xlab: "GLON [deg]", ylab: "GLAT [deg]", ylx: 23});
panel({name: "pm-panel", data: pmraPmde, x0: 631, x1: 1049, y0: 69, y1: 491, xd: [-2.336, -0.843], yd: [0.9925, -0.5815], xt: p2XTicks, yt: p2YTicks, xm: 0.05, ym: 0.05, xdec: 2, ydec: 1, xlab: "pmRA [mas/yr]", ylab: "pmDE [mas/yr]", ylx: 558});
panel({name: "plx-g-panel", data: plxG, x0: 96, x1: 515, y0: 578, y1: 1000, xd: [0.2713, 1.0015], yd: [6.216, 19.5], xt: p3XTicks, yt: gTicks, xm: 0.05, ym: 0.5, xdec: 1, ydec: 0, xlab: "Plx [mas]", ylab: "G [mag]", ylx: 44, vline: plxMedian});
panel({name: "cmd-panel", data: colorG, x0: 631, x1: 1049, y0: 578, y1: 1000, xd: [0.032, 3.558], yd: [6.216, 19.5], xt: p4XTicks, yt: gTicks, xm: 0.1, ym: 0.5, xdec: 1, ydec: 0, xlab: "BP-RP [mag]", ylab: "G [mag]", ylx: 580});

(function () {
  const g = mk("g", {});
  
  
  const L = 1064, R = 1086, T = 69, B = 1000;
  const sy = v => B - (v - 0.5) / 0.5 * (B - T);
  mk("rect", {x: L, y: T, width: R - L, height: B - T, fill: "url(#plasma)", "fill-opacity": 0.8}, g);
  const tk = mk("g", {stroke: "#000", "stroke-width": 1}, g);
  for (let v = 0.52; v < 0.999; v += 0.02) { const Y = sy(v); mk("line", {x1: R, x2: R - 3, y1: Y, y2: Y}, tk); }
  for (const v of cbTicks) {
    const Y = sy(v);
    mk("line", {x1: R, x2: R - 6, y1: Y, y2: Y}, tk);
    const t = mk("text", {x: R + 10, y: Y + 6, "font-size": 17}, g);
    t.textContent = v.toFixed(1);
    
    
  }
  mk("rect", {x: L, y: T, width: R - L, height: B - T, fill: "none", stroke: "#000", "stroke-width": 1.2}, g);
})();
</script>
</body></html>
